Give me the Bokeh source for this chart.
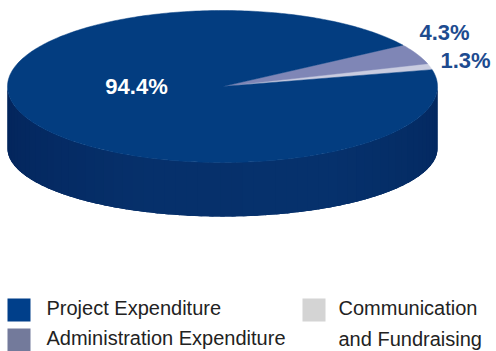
import math
from bokeh.plotting import figure
from bokeh.models import Range1d
from bokeh.core.properties import value
from bokeh.embed import file_html
from bokeh.resources import INLINE

# ---- data ----
categories = ["Project Expenditure", "Administration Expenditure", "Communication and Fundraising"]
shares = [94.4, 4.3, 1.3]
pct_labels = ["94.4%", "4.3%", "1.3%"]
top_colors = ["#033d80", "#7f86b6", "#c9cce0"]
legend_colors = ["#003f8a", "#737a9b", "#d4d4d4"]
legend_lines = [["Project Expenditure"], ["Administration Expenditure"], ["Communication", "and Fundraising"]]

# ---- geometry (layout) ----
W, H = 496, 351
cx, cy, rx, ry = 222.0, 86.0, 215.0, 76.0        # top ellipse
bcy, bry = 148.0, 68.0                           # bottom ellipse
start_deg = 12.8                                 # where the smallest slice starts (ccw)

p = figure(width=W, height=H, output_backend="svg", toolbar_location=None,
           x_range=Range1d(0, W), y_range=Range1d(H, 0), min_border=0)
p.axis.visible = False
p.grid.visible = False
p.outline_line_color = None
p.background_fill_color = "white"
p.border_fill_color = "white"

def top_pt(t):
    return cx + rx * math.cos(t), cy - ry * math.sin(t)

def bot_pt(t):
    return cx + rx * math.cos(t), bcy - bry * math.sin(t)

# ---- side wall (front half, 180..360 deg) with horizontal shading ----
def lerp(c1, c2, f):
    a = [int(c1[i:i + 2], 16) for i in (1, 3, 5)]
    b = [int(c2[i:i + 2], 16) for i in (1, 3, 5)]
    return "#%02x%02x%02x" % tuple(round(a[k] + (b[k] - a[k]) * f) for k in range(3))

stops = [(180, "#03245a"), (250, "#06306b"), (300, "#06316c"), (360, "#03285f")]
def side_col(d):
    for (d1, c1), (d2, c2) in zip(stops, stops[1:]):
        if d1 <= d <= d2:
            return lerp(c1, c2, (d - d1) / (d2 - d1))
    return stops[-1][1]

def side_poly(d1, d2, n=6):
    ts = [math.radians(d1 + (d2 - d1) * k / n) for k in range(n + 1)]
    pts = [top_pt(t) for t in ts] + [bot_pt(t) for t in reversed(ts)]
    return [q[0] for q in pts], [q[1] for q in pts]

# solid base so strips leave no seams
bx, by = side_poly(180, 360, 120)
p.patch(bx, by, fill_color="#052d66", line_color=None)

xs, ys, cols = [], [], []
step = 3.0
d = 180.0
while d < 360.0 - 1e-9:
    d2 = min(d + step, 360.0)
    x_, y_ = side_poly(max(180.0, d - 0.6), min(360.0, d2 + 0.6), 3)
    xs.append(x_); ys.append(y_)
    cols.append(side_col((d + d2) / 2))
    d = d2
p.patches(xs, ys, fill_color=cols, line_color=None)

# ---- top slices ----
order = [2, 1, 0]   # counter-clockwise from start: comm, admin, project
total = sum(shares)
a = start_deg
sx, sy, sc = [], [], []
for i in order:
    span = shares[i] / total * 360.0
    n = max(4, int(span / 1.0))
    px, py = [cx], [cy]
    for k in range(n + 1):
        t = math.radians(a + span * k / n)
        x, y = top_pt(t)
        px.append(x); py.append(y)
    sx.append(px); sy.append(py); sc.append(top_colors[i])
    a += span
p.patches(sx, sy, fill_color=sc, line_color=sc, line_width=0.5)

# ---- percentage labels ----
p.text(x=[136], y=[86], text=[pct_labels[0]], text_color="white",
       text_font=value("Liberation Sans"), text_font_style="bold",
       text_font_size="22px", text_align="center", text_baseline="middle")
p.text(x=[419, 440], y=[32, 60], text=[pct_labels[1], pct_labels[2]], text_color="#1d4b8f",
       text_font=value("Liberation Sans"), text_font_style="bold",
       text_font_size="22px", text_align="left", text_baseline="middle")

# ---- legend ----
sq_x = [7, 7, 302]
sq_y = [298, 328, 298]
p.quad(left=sq_x, right=[v + 23 for v in sq_x], top=sq_y, bottom=[v + 23 for v in sq_y],
       fill_color=legend_colors, line_color=None)
tx, ty, tt = [], [], []
for i, lines in enumerate(legend_lines):
    for j, ln in enumerate(lines):
        tx.append(sq_x[i] + 39 if i < 2 else 338)
        ty.append(307 + 31 * j if i == 2 else sq_y[i] + 9)
        tt.append(ln)
p.text(x=tx, y=ty, text=tt, text_color="#222222", text_font=value("Liberation Sans"),
       text_font_size="20px", text_align="left", text_baseline="middle")

open("out.html", "w").write(file_html(p, INLINE))
